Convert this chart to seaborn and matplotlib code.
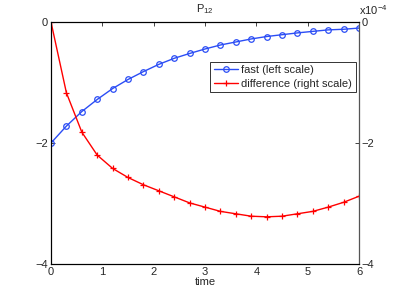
import matplotlib
matplotlib.use("Agg")
import matplotlib.pyplot as plt
import matplotlib.ticker as mticker
import pandas as pd
import seaborn as sns

sns.set_style("white")
plt.rcParams["font.family"] = ["Liberation Sans", "DejaVu Sans"]
plt.rcParams["mathtext.fontset"] = "custom"
plt.rcParams["mathtext.rm"] = "Liberation Sans"

# time samples
time = [0.0, 0.3, 0.6, 0.9, 1.2, 1.5, 1.8, 2.1, 2.4, 2.7, 3.0,
        3.3, 3.6, 3.9, 4.2, 4.5, 4.8, 5.1, 5.4, 5.7, 6.0]
# fast component (left scale)
fast = [-2.00, -1.72, -1.48, -1.28, -1.10, -0.95, -0.82, -0.70, -0.60, -0.52, -0.446,
        -0.38, -0.33, -0.28, -0.24, -0.21, -0.18, -0.155, -0.13, -0.12, -0.10]
# difference (right scale, units of 1e-4)
difference = [0.0, -1.17, -1.82, -2.20, -2.42, -2.57, -2.69, -2.79, -2.89, -2.99, -3.06,
              -3.13, -3.17, -3.21, -3.22, -3.21, -3.17, -3.13, -3.06, -2.98, -2.88]

df = pd.DataFrame({"time": time, "fast": fast,
                   "difference": [d * 1e-4 for d in difference]})

fig = plt.figure(figsize=(3.96, 2.97), dpi=100)
ax = fig.add_axes([0.1288, 0.1111, 0.7778, 0.8148])
ax2 = ax.twinx()

sns.lineplot(data=df, x="time", y="fast", ax=ax, color="#2b4df5", marker="o",
             markersize=4, markerfacecolor="none", markeredgecolor="#2b4df5",
             markeredgewidth=0.9, linewidth=1.0, label="fast (left scale)", legend=False)
sns.lineplot(data=df, x="time", y="difference", ax=ax2, color="#ff0000", marker="+",
             markersize=5, markeredgecolor="#ff0000", markeredgewidth=0.9, linewidth=1.0,
             label="difference (right scale)", legend=False)

ax.set_xlim(0, 6)
ax.set_ylim(-4, 0)
ax2.set_ylim(-4e-4, 0)
ax.set_xticks(range(0, 7))
ax.set_yticks([-4, -2, 0])
ax2.set_yticks([-4e-4, -2e-4, 0])
ax2.yaxis.set_major_formatter(
    mticker.FuncFormatter(lambda v, p: f"{v * 1e4:g}".replace("-", "\u2212")))
ax2.text(1.0, 1.02, "x10$^{-4}$", transform=ax2.transAxes, fontsize=8,
         ha="left", va="bottom")

ax.set_xlabel("time", fontsize=8, labelpad=0)
ax.set_ylabel("")
ax2.set_ylabel("")
ax.set_title(r"P$_{\rm 12}$", fontsize=8, pad=7)

for a in (ax, ax2):
    a.tick_params(direction="in", length=3, labelsize=8, width=0.6, pad=2)
    for s in a.spines.values():
        s.set_linewidth(0.8)
        s.set_color("black")
ax.tick_params(top=True, which="both")
ax2.spines["right"].set_color("#555555")

h1, l1 = ax.get_legend_handles_labels()
h2, l2 = ax2.get_legend_handles_labels()
leg = ax2.legend(h1 + h2, l1 + l2, loc="upper left", bbox_to_anchor=(0.517, 0.835),
                 borderaxespad=0, fontsize=8, frameon=True, fancybox=False, borderpad=0.3,
                 handlelength=2.2, handletextpad=0.3, labelspacing=0.3)
leg.get_frame().set_edgecolor("black")
leg.get_frame().set_linewidth(0.7)

fig.savefig("out.png", dpi=100)
